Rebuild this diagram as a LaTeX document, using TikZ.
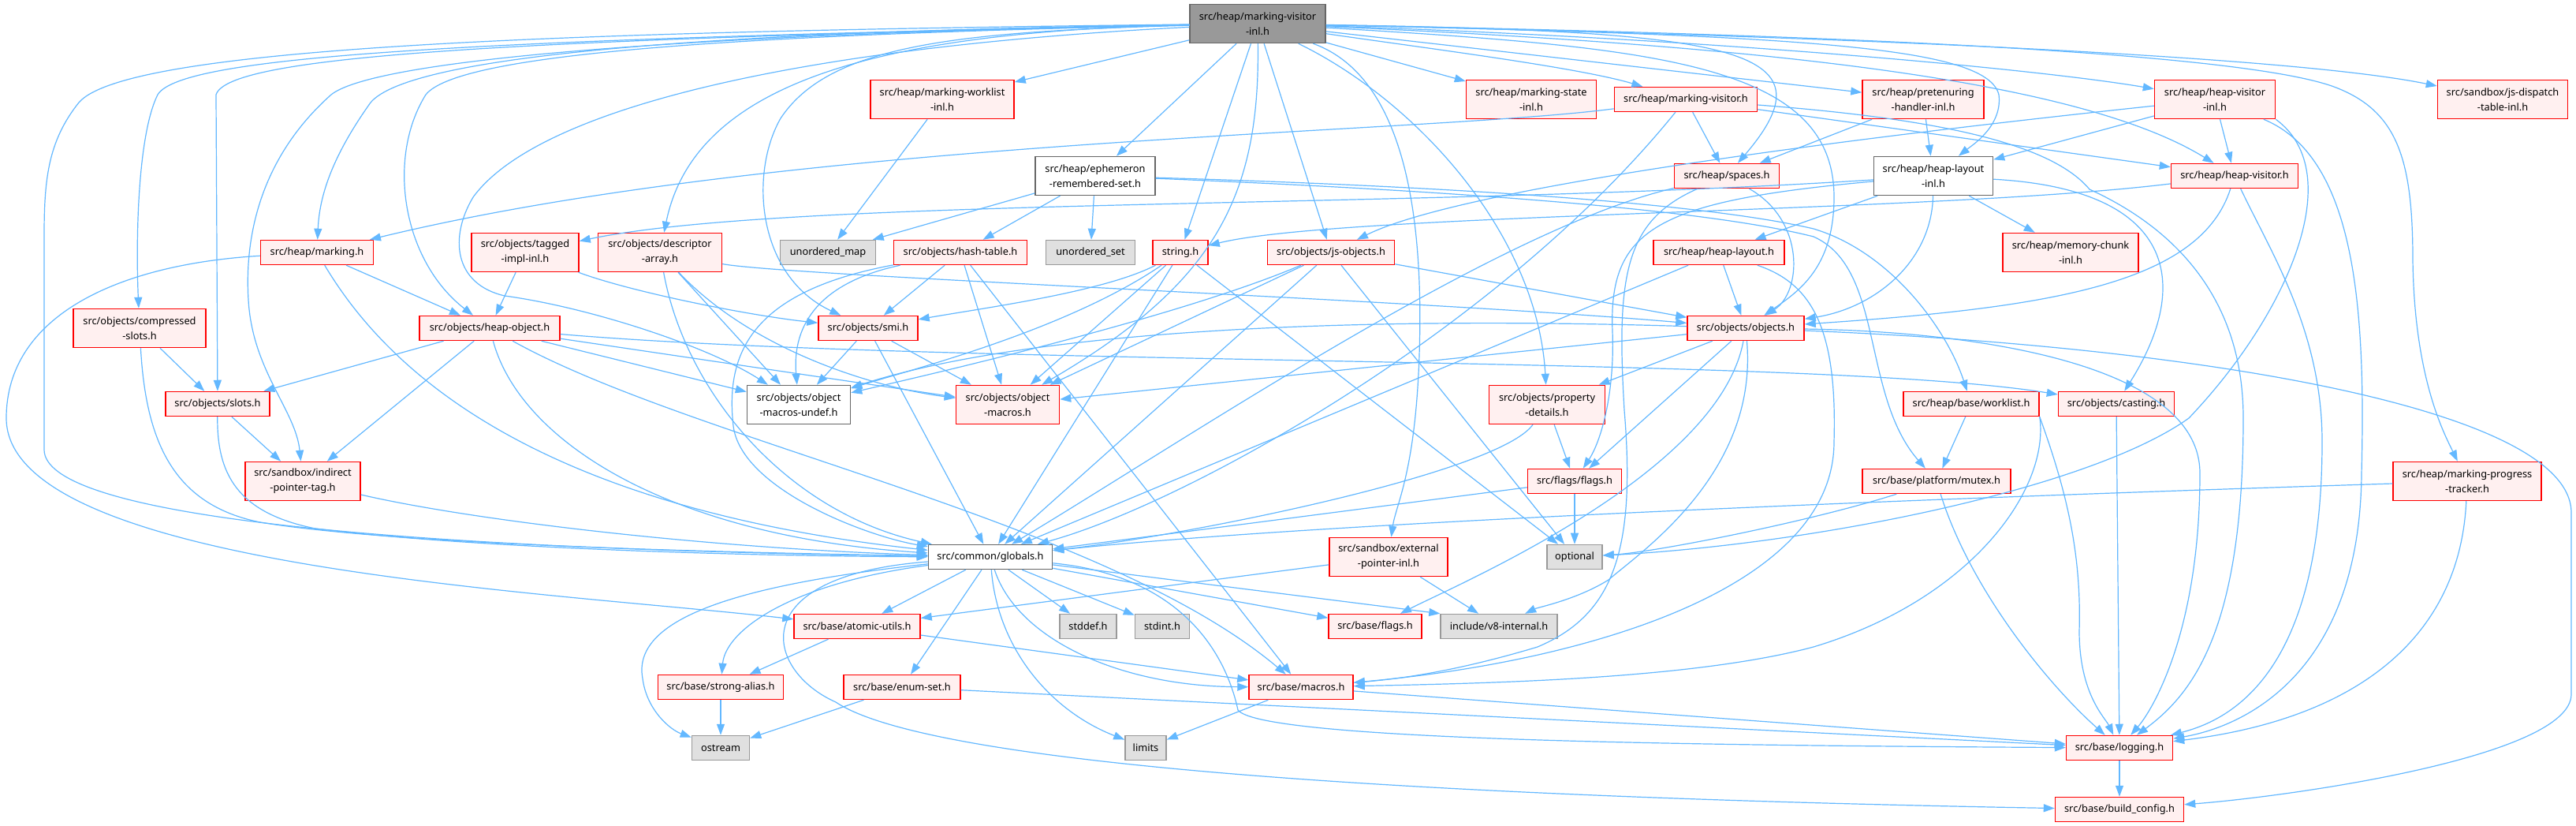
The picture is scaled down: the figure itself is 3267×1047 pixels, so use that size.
\documentclass[tikz,border=0pt]{standalone}
\usepackage{fontspec}
\setmainfont{Noto Sans}
\usetikzlibrary{arrows.meta}
\definecolor{depblue}{HTML}{63B8FF}
\definecolor{filered}{HTML}{FFF0F0}
\definecolor{sysfill}{HTML}{E0E0E0}
\definecolor{sysdraw}{HTML}{999999}
\definecolor{plaindraw}{HTML}{666666}
\definecolor{rootfill}{HTML}{999999}
\newcommand\hfont{\fontsize{6.4}{9.4}\selectfont}
\tikzset{
  incfile/.style   = {draw=red, fill=filered, line width=0.75pt, minimum height=15.5pt,
                      inner xsep=4pt, inner ysep=1pt, align=center, font=\hfont},
  sysfile/.style   = {incfile, draw=sysdraw, fill=sysfill},
  plainfile/.style = {incfile, draw=plaindraw, fill=white},
  rootfile/.style  = {incfile, draw=plaindraw, fill=rootfill},
  twoline/.style   = {minimum height=24.5pt},
  dep/.style       = {draw=depblue, line width=0.6pt, -{Triangle[length=7pt,width=5pt]}},
}
\begin{document}
\begin{tikzpicture}[x=0.5pt,y=-0.5pt]
\fill[white] (0,0) rectangle (3267,1047);
\useasboundingbox (0,0) rectangle (3267,1047);
% files
\node[rootfile,twoline,minimum width=86pt] (root) at (1595,30) {src/heap/marking-visitor\\-inl.h};
\node[incfile,twoline,minimum width=91pt] (mwl) at (1195,126) {src/heap/marking-worklist\\-inl.h};
\node[incfile,twoline,minimum width=82.5pt] (msinl) at (1942,126) {src/heap/marking-state\\-inl.h};
\node[incfile,minimum width=90.5pt] (mv) at (2138,126) {src/heap/marking-visitor.h};
\node[incfile,twoline,minimum width=77pt] (phinl) at (2439,126) {src/heap/pretenuring\\-handler-inl.h};
\node[incfile,twoline,minimum width=76.5pt] (hvinl) at (2809,126) {src/heap/heap-visitor\\-inl.h};
\node[incfile,twoline,minimum width=82.5pt] (jsdt) at (3174,126) {src/sandbox/js-dispatch\\-table-inl.h};
\node[plainfile,twoline,minimum width=76pt] (ers) at (1389,223) {src/heap/ephemeron\\-remembered-set.h};
\node[incfile,minimum width=66.5pt] (spaces) at (2190,223) {src/heap/spaces.h};
\node[plainfile,twoline,minimum width=75.5pt] (hlinl) at (2452,223) {src/heap/heap-layout\\-inl.h};
\node[incfile,minimum width=80.5pt] (hv) at (2834,223) {src/heap/heap-visitor.h};
\node[incfile,minimum width=71.5pt] (marking) at (402,320) {src/heap/marking.h};
\node[incfile,twoline,minimum width=68pt] (tagged) at (666,320) {src/objects/tagged\\-impl-inl.h};
\node[incfile,twoline,minimum width=78.5pt] (desc) at (837,320) {src/objects/descriptor\\-array.h};
\node[sysfile,minimum width=60.5pt] (umap) at (1050,320) {unordered\_map};
\node[incfile,minimum width=84.5pt] (hash) at (1218,320) {src/objects/hash-table.h};
\node[sysfile,minimum width=56.5pt] (uset) at (1383,320) {unordered\_set};
\node[incfile,minimum width=35pt] (string) at (1497,320) {string.h};
\node[incfile,minimum width=80.5pt] (jsobj) at (1688,320) {src/objects/js-objects.h};
\node[incfile,minimum width=83pt] (hl) at (2180,320) {src/heap/heap-layout.h};
\node[incfile,twoline,minimum width=86pt] (mcinl) at (2626,320) {src/heap/memory-chunk\\-inl.h};
\node[incfile,twoline,minimum width=84pt] (cslots) at (177,416) {src/objects/compressed\\-slots.h};
\node[incfile,minimum width=89pt] (hobj) at (621,416) {src/objects/heap-object.h};
\node[incfile,minimum width=63pt] (smi) at (1101,416) {src/objects/smi.h};
\node[incfile,minimum width=74pt] (objects) at (2214,416) {src/objects/objects.h};
\node[incfile,minimum width=66pt] (slots) at (276,512) {src/objects/slots.h};
\node[plainfile,twoline,minimum width=65.5pt] (omu) at (1013,513) {src/objects/object\\-macros-undef.h};
\node[incfile,twoline,minimum width=65.5pt] (om) at (1278,513) {src/objects/object\\-macros.h};
\node[incfile,twoline,minimum width=73.5pt] (pd) at (1962,513) {src/objects/property\\-details.h};
\node[incfile,minimum width=86pt] (worklist) at (2500,512) {src/heap/base/worklist.h};
\node[incfile,minimum width=73.5pt] (casting) at (2684,512) {src/objects/casting.h};
\node[incfile,twoline,minimum width=73pt] (ipt) at (384,610) {src/sandbox/indirect\\-pointer-tag.h};
\node[incfile,minimum width=59.5pt] (flags) at (1997,610) {src/flags/flags.h};
\node[incfile,minimum width=94pt] (mutex) at (2456,610) {src/base/platform/mutex.h};
\node[incfile,twoline,minimum width=94pt] (mpt) at (3129,610) {src/heap/marking-progress\\-tracker.h};
\node[plainfile,minimum width=78.5pt] (globals) at (1256,706) {src/common/globals.h};
\node[incfile,twoline,minimum width=75pt] (epinl) at (1761,706) {src/sandbox/external\\-pointer-inl.h};
\node[sysfile,minimum width=35pt] (optional) at (1997,706) {optional};
\node[incfile,minimum width=80pt] (atomic) at (1087,794) {src/base/atomic-utils.h};
\node[sysfile,minimum width=36pt] (stddef) at (1380,794) {stddef.h};
\node[sysfile,minimum width=34.5pt] (stdint) at (1474,794) {stdint.h};
\node[incfile,minimum width=59pt] (bflags) at (1744,794) {src/base/flags.h};
\node[sysfile,minimum width=74pt] (v8int) at (1901,794) {include/v8-internal.h};
\node[incfile,minimum width=79.5pt] (salias) at (914,871) {src/base/strong-alias.h};
\node[incfile,minimum width=74pt] (enumset) at (1144,871) {src/base/enum-set.h};
\node[incfile,minimum width=66pt] (macros) at (1650,871) {src/base/macros.h};
\node[sysfile,minimum width=36.5pt] (ostream) at (914,948) {ostream};
\node[sysfile,minimum width=26pt] (limits) at (1453,948) {limits};
\node[incfile,minimum width=67.5pt] (logging) at (2688,948) {src/base/logging.h};
\node[incfile,minimum width=81.5pt] (bconfig) at (2688,1026) {src/base/build\_config.h};
% includes of the root file
\draw[dep] (root) -- (mwl);
\draw[dep] (root) -- (ers);
\draw[dep] (root) -- (string);
\draw[dep] (root) -- (jsobj);
\draw[dep] (root) -- (msinl);
\draw[dep] (root) .. controls (1800,60) and (2000,85) .. (mv);
\draw[dep] (root) -- (phinl);
\draw[dep] (root) .. controls (2200,50) and (2600,90) .. (hvinl);
\draw[dep] (root) .. controls (2300,45) and (2900,70) .. (jsdt);
\draw[dep] (root) .. controls (2300,60) and (2650,110) .. (hv);
\draw[dep] (root) .. controls (2200,40) and (2330,60) .. (spaces);
\draw[dep] (root) .. controls (2300,45) and (2520,60) .. (2535,120) .. controls (2540,160) and (2500,185) .. (hlinl);
\draw[dep] (root) .. controls (2100,60) and (2326,80) .. (2326,250) .. controls (2326,340) and (2280,370) .. (objects);
\draw[dep] (root) .. controls (2400,45) and (2850,70) .. (2960,110) .. controls (3040,140) and (3060,200) .. (3060,330) .. controls (3062,480) and (3100,550) .. (mpt);
\draw[dep] (root) .. controls (1800,130) and (1950,300) .. (pd);
\draw[dep] (root) .. controls (1790,100) and (1805,300) .. (1800,450) .. controls (1795,600) and (1770,640) .. (epinl);
\draw[dep] (root) .. controls (1598,250) and (1540,360) .. (om);
\draw[dep] (root) .. controls (1200,40) and (1050,60) .. (990,150) .. controls (950,220) and (960,350) .. (smi);
\draw[dep] (root) .. controls (1100,40) and (880,110) .. (desc);
\draw[dep] (root) .. controls (1000,60) and (680,140) .. (600,250) .. controls (570,300) and (575,360) .. (640,375) .. controls (750,390) and (900,440) .. (omu);
\draw[dep] (root) .. controls (900,45) and (580,70) .. (540,120) .. controls (490,200) and (510,330) .. (hobj);
\draw[dep] (root) .. controls (900,40) and (520,70) .. (470,130) .. controls (420,200) and (405,250) .. (marking);
\draw[dep] (root) .. controls (800,45) and (470,80) .. (420,120) .. controls (330,200) and (310,300) .. (315,380) .. controls (320,470) and (375,520) .. (ipt);
\draw[dep] (root) .. controls (650,50) and (290,70) .. (274,120) -- (slots);
\draw[dep] (root) .. controls (600,50) and (230,70) .. (200,120) .. controls (175,170) and (172,300) .. (cslots);
\draw[dep] (root) .. controls (700,40) and (160,60) .. (100,130) .. controls (60,180) and (56,230) .. (56,300) -- (56,570) .. controls (56,650) and (450,695) .. (globals);
% heap files
\draw[dep] (mwl) -- (umap);
\draw[dep] (mv) .. controls (1800,170) and (1000,175) .. (marking);
\draw[dep] (mv) -- (spaces);
\draw[dep] (mv) -- (hv);
\draw[dep] (mv) .. controls (1900,420) and (1500,640) .. (globals);
\draw[dep] (mv) .. controls (2450,150) and (2600,180) .. (2650,240) .. controls (2760,290) and (2845,380) .. (2845,530) .. controls (2845,800) and (2780,880) .. (logging);
\draw[dep] (phinl) -- (spaces);
\draw[dep] (phinl) -- (hlinl);
\draw[dep] (hvinl) -- (hlinl);
\draw[dep] (hvinl) -- (hv);
\draw[dep] (hvinl) .. controls (2300,180) and (1850,240) .. (jsobj);
\draw[dep] (hvinl.south east) .. controls (2980,220) and (2900,400) .. (2776,530) .. controls (2650,620) and (2300,690) .. (optional);
\draw[dep] (hvinl) .. controls (2990,200) and (3000,400) .. (2995,600) .. controls (2993,850) and (2850,920) .. (logging);
\draw[dep] (hv) .. controls (2790,360) and (2600,390) .. (objects);
\draw[dep] (hv) .. controls (2880,320) and (2945,420) .. (2945,560) .. controls (2945,840) and (2840,910) .. (logging);
\draw[dep] (hv) .. controls (2450,270) and (1700,270) .. (string);
\draw[dep] (ers) -- (umap);
\draw[dep] (ers) -- (hash);
\draw[dep] (ers) -- (uset);
\draw[dep] (ers) .. controls (1800,235) and (2150,255) .. (2300,290) .. controls (2400,320) and (2470,420) .. (worklist);
\draw[dep] (ers) .. controls (1800,240) and (2150,262) .. (2300,300) .. controls (2390,340) and (2360,500) .. (mutex);
\draw[dep] (hlinl) -- (hl);
\draw[dep] (hlinl) -- (mcinl);
\draw[dep] (hlinl) .. controls (2450,330) and (2380,390) .. (objects);
\draw[dep] (hlinl) .. controls (2760,240) and (2780,360) .. (casting);
\draw[dep] (hlinl) .. controls (1800,265) and (1000,250) .. (tagged);
\draw[dep] (hlinl) .. controls (2100,255) and (2040,290) .. (2045,420) .. controls (2048,500) and (2030,560) .. (flags);
\draw[dep] (hl) -- (objects);
\draw[dep] (hl) -- (globals);
\draw[dep] (hl) .. controls (2300,360) and (2330,420) .. (2326,560) .. controls (2326,750) and (2000,840) .. (macros);
\draw[dep] (spaces) .. controls (2290,280) and (2285,370) .. (objects);
\draw[dep] (spaces) .. controls (2060,280) and (2050,350) .. (2060,520) .. controls (2075,700) and (2045,780) .. (1950,820) .. controls (1850,850) and (1780,860) .. (macros);
\draw[dep] (spaces) .. controls (1900,290) and (1500,560) .. (globals);
\draw[dep] (marking) -- (hobj);
\draw[dep] (marking) .. controls (480,450) and (650,640) .. (globals);
\draw[dep] (marking) .. controls (150,335) and (8,400) .. (8,530) .. controls (8,720) and (700,750) .. (atomic);
% object files
\draw[dep] (tagged) -- (hobj);
\draw[dep] (tagged) .. controls (800,370) and (950,400) .. (smi);
\draw[dep] (desc) .. controls (1000,350) and (1800,380) .. (objects);
\draw[dep] (desc) .. controls (870,500) and (1000,650) .. (globals);
\draw[dep] (desc) -- (omu);
\draw[dep] (desc) .. controls (950,440) and (1100,490) .. (om);
\draw[dep] (cslots) -- (slots);
\draw[dep] (cslots) .. controls (185,560) and (220,640) .. (330,662) .. controls (500,690) and (900,700) .. (globals);
\draw[dep] (slots) -- (ipt);
\draw[dep] (slots) .. controls (275,600) and (300,650) .. (400,670) .. controls (600,695) and (950,705) .. (globals);
\draw[dep] (ipt) .. controls (600,660) and (900,695) .. (globals);
\draw[dep] (hobj) -- (slots);
\draw[dep] (hobj) -- (ipt);
\draw[dep] (hobj) .. controls (660,560) and (850,680) .. (globals);
\draw[dep] (hobj) .. controls (880,560) and (1400,660) .. (macros);
\draw[dep] (hobj) -- (omu);
\draw[dep] (hobj) -- (om);
\draw[dep] (hobj) .. controls (1200,465) and (2300,450) .. (casting);
\draw[dep] (smi) -- (omu);
\draw[dep] (smi) -- (om);
\draw[dep] (smi) -- (globals);
\draw[dep] (hash) .. controls (1030,360) and (1005,420) .. (omu);
\draw[dep] (hash) .. controls (950,370) and (920,450) .. (930,540) .. controls (940,620) and (1100,680) .. (globals);
\draw[dep] (hash) -- (smi);
\draw[dep] (hash) -- (om);
\draw[dep] (hash) -- (macros);
\draw[dep] (string) .. controls (1400,370) and (1250,390) .. (smi);
\draw[dep] (string) .. controls (1350,420) and (1150,470) .. (omu);
\draw[dep] (string) -- (om);
\draw[dep] (string) -- (globals);
\draw[dep] (string) -- (optional);
\draw[dep] (jsobj) -- (om);
\draw[dep] (jsobj) .. controls (1500,400) and (1200,470) .. (omu);
\draw[dep] (jsobj) -- (globals);
\draw[dep] (jsobj) -- (optional);
\draw[dep] (jsobj) -- (objects);
\draw[dep] (objects) -- (pd);
\draw[dep] (objects) -- (flags);
\draw[dep] (objects) -- (om);
\draw[dep] (objects) .. controls (1700,400) and (1300,420) .. (omu);
\draw[dep] (objects) .. controls (2180,600) and (1850,740) .. (bflags);
\draw[dep] (objects) .. controls (2230,600) and (2080,700) .. (2040,735) .. controls (2000,760) and (1950,770) .. (v8int);
\draw[dep] (objects) .. controls (2500,420) and (2790,460) .. (2790,600) .. controls (2790,800) and (2730,900) .. (logging);
\draw[dep] (objects) .. controls (2800,440) and (3261,520) .. (3261,650) -- (3261,880) .. controls (3261,960) and (2900,1010) .. (bconfig);
\draw[dep] (pd) -- (flags);
\draw[dep] (pd) .. controls (1900,600) and (1500,680) .. (globals);
\draw[dep] (flags) -- (optional);
\draw[dep] (flags) -- (globals);
% sandbox and base files
\draw[dep] (epinl) -- (atomic);
\draw[dep] (epinl) -- (v8int);
\draw[dep] (mpt) .. controls (2500,630) and (1700,660) .. (globals);
\draw[dep] (mpt) .. controls (3120,800) and (3000,910) .. (logging);
\draw[dep] (worklist) -- (mutex);
\draw[dep] (worklist.south east) .. controls (2600,620) and (2500,760) .. (2300,820) .. controls (2150,860) and (1900,866) .. (macros);
\draw[dep] (worklist.south east) .. controls (2620,620) and (2640,700) .. (2637,800) .. controls (2637,880) and (2670,910) .. (logging);
\draw[dep] (mutex) .. controls (2300,660) and (2100,700) .. (optional);
\draw[dep] (mutex) .. controls (2500,750) and (2600,870) .. (logging);
\draw[dep] (casting) -- (logging);
\draw[dep] (globals) -- (atomic);
\draw[dep] (globals) -- (enumset);
\draw[dep] (globals) .. controls (1265,820) and (1330,900) .. (limits);
\draw[dep] (globals) .. controls (1290,810) and (1420,870) .. (macros);
\draw[dep] (globals) -- (stddef);
\draw[dep] (globals) -- (stdint);
\draw[dep] (globals) -- (bflags);
\draw[dep] (globals) -- (v8int.north west);
\draw[dep] (globals) .. controls (1500,730) and (1555,830) .. (1570,900) .. controls (1600,940) and (2200,945) .. (logging);
\draw[dep] (globals) .. controls (950,740) and (800,780) .. (815,860) .. controls (820,900) and (850,925) .. (ostream);
\draw[dep] (globals) .. controls (1000,740) and (920,800) .. (salias);
\draw[dep] (globals) .. controls (940,730) and (970,850) .. (1060,890) .. controls (1180,970) and (1800,1010) .. (bconfig);
\draw[dep] (atomic) -- (salias);
\draw[dep] (atomic) -- (macros);
\draw[dep] (salias) -- (ostream);
\draw[dep] (enumset) -- (ostream);
\draw[dep] (enumset) -- (logging);
\draw[dep] (macros) -- (limits);
\draw[dep] (macros) -- (logging);
\draw[dep] (logging) -- (bconfig);
\end{tikzpicture}
\end{document}
